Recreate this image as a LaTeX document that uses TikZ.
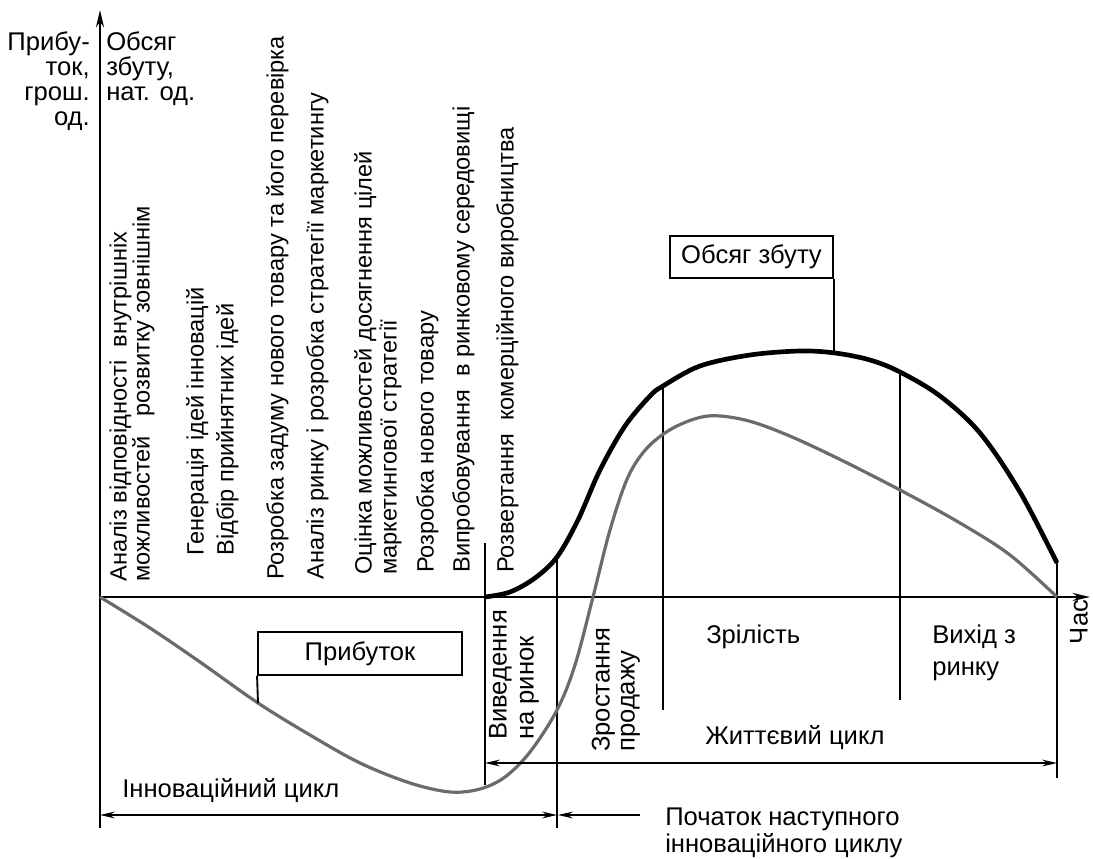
\documentclass[tikz,border=0pt]{standalone}
\usepackage{fontspec}
\setmainfont{Liberation Sans}
\usetikzlibrary{arrows.meta}
\begin{document}
\begin{tikzpicture}[x=0.75pt,y=-0.75pt,
  vtext/.style={rotate=90,anchor=mid west,inner sep=0pt,
    font=\fontsize{17.7pt}{18pt}\selectfont},
  vlabel/.style={rotate=90,anchor=mid west,inner sep=0pt,
    font=\fontsize{19.2pt}{20pt}\selectfont},
  hlabel/.style={inner sep=0pt,anchor=base west,
    font=\fontsize{19.2pt}{20pt}\selectfont},
  axislabel/.style={inner sep=0pt,
    font=\fontsize{19.2pt}{18.9pt}\selectfont},
  axisline/.style={line width=1.9pt,-{Stealth[length=13pt,width=6pt]}},
  divider/.style={line width=1.3pt},
  sales/.style={line width=3.5pt,line join=round},
  profit/.style={line width=2.4pt,draw=black!58},
  tag/.style={draw,line width=1.4pt,inner sep=0pt,
    font=\fontsize{19.2pt}{20pt}\selectfont},
  span/.style={line width=1.4pt,
    {Stealth[length=11pt,width=5pt]}-{Stealth[length=11pt,width=5pt]}},
  onespan/.style={line width=1.4pt,-{Stealth[length=11pt,width=5pt]}}
]
\useasboundingbox (0,0) rectangle (1093,859);

% axes
\coordinate (O) at (100,597);
\coordinate (ytop) at (100,10);
\coordinate (ybot) at (100,828);
\coordinate (xend) at (1090,597);
\draw[line width=1.9pt] (ybot) -- (O);
\draw[axisline] (O) -- (ytop);
\draw[axisline] (O) -- (xend);

% axis titles
\node[axislabel,anchor=north east,align=right] (ylabA) at (90,31)
  {Прибу-\\ток,\\грош.\\од.};
\node[axislabel,anchor=north west,align=left] (ylabB) at (106,31)
  {Обсяг\\збуту,\\нат. од.};
\node[axislabel,rotate=90,anchor=center] (xlab) at (1079,622) {Час};

% stages of the innovation cycle
\node[vtext] (s1a) at (123,582) {Аналіз відповідності\ \ внутрішніх};
\node[vtext] (s1b) at (146,582) {можливостей\ \ \ розвитку зовнішнім};
\node[vtext] (s2)  at (200,556) {Генерація ідей інновацій};
\node[vtext] (s3)  at (230,556) {Відбір прийнятних ідей};
\node[vtext] (s4)  at (280,580) {Розробка задуму нового товару та його перевірка};
\node[vtext] (s5)  at (320,580) {Аналіз ринку і розробка стратегії маркетингу};
\node[vtext] (s6a) at (368,575) {Оцінка можливостей досягнення цілей};
\node[vtext] (s6b) at (393,575) {маркетингової стратегії};
\node[vtext] (s7)  at (430,573) {Розробка нового товару};
\node[vtext] (s8)  at (466,573) {Випробовування\ \ в ринковому середовищі};
\node[vtext] (s9)  at (510,573) {Розвертання\ \ комерційного виробництва};

% phase boundaries
\coordinate (b1t) at (485,543);  \coordinate (b1b) at (485,785);
\coordinate (b2t) at (557,557);  \coordinate (b2b) at (557,828);
\coordinate (b3t) at (663,384);  \coordinate (b3b) at (663,710);
\coordinate (b4t) at (900,372);  \coordinate (b4b) at (900,700);
\coordinate (b5t) at (1057,563); \coordinate (b5b) at (1057,778);
\draw[divider] (b1t) -- (b1b);
\draw[divider] (b2t) -- (b2b);
\draw[divider] (b3t) -- (b3b);
\draw[divider] (b4t) -- (b4b);
\draw[divider] (b5t) -- (b5b);

% profit curve
\draw[profit] plot[smooth,tension=0.55] coordinates {
  (100,597) (150,628) (200,662) (258,703) (310,735) (360,763) (410,783)
  (450,792) (480,789) (505,777) (530,752) (557,710) (575,665) (593,597)
  (610,530) (628,477) (648,447) (675,427) (708,416) (745,420) (785,434)
  (835,457) (900,490) (960,523) (1010,555) (1057,597)};

% sales volume curve
\draw[sales] plot[smooth,tension=0.55] coordinates {
  (485,597) (510,592) (535,578) (557,557) (578,520) (600,470) (625,426)
  (650,396) (663,386) (700,366) (750,355) (800,351) (835,353) (870,360)
  (900,372) (940,396) (980,433) (1020,492) (1057,563)};

% curve tags
\node[tag,minimum width=153pt,minimum height=32.3pt] (ptag) at (360,653.5) {Прибуток};
\coordinate (pmark) at (258,703);
\draw[line width=1.4pt] (ptag.south west) -- (pmark);
\node[tag,minimum width=122.3pt,minimum height=31.5pt] (stag) at (751.5,257) {Обсяг збуту};
\coordinate (smark) at (stag.south east |- 0,353);
\draw[line width=1.4pt] (stag.south east) -- (smark);

% life-cycle phases
\node[vlabel] (p1a) at (503,740) {Виведення};
\node[vlabel] (p1b) at (530,740) {на ринок};
\node[vlabel] (p2a) at (606,752) {Зростання};
\node[vlabel] (p2b) at (631,752) {продажу};
\node[hlabel] (p3) at (706,643) {Зрілість};
\node[hlabel] (p4a) at (932,643) {Вихід з};
\node[hlabel] (p4b) at (932,675) {ринку};

% cycle spans
\coordinate (lcL) at (485,763); \coordinate (lcR) at (1057,763);
\draw[span] (lcL) -- (lcR);
\node[hlabel] (lc) at (705,744) {Життєвий цикл};
\coordinate (icL) at (100,815); \coordinate (icR) at (557,815);
\draw[span] (icL) -- (icR);
\node[hlabel] (ic) at (122,797) {Інноваційний цикл};
\coordinate (nxS) at (640,815); \coordinate (nxE) at (558,815);
\draw[onespan] (nxS) -- (nxE);
\node[hlabel] (nxa) at (665,825) {Початок наступного};
\node[hlabel] (nxb) at (665,852) {інноваційного циклу};
\end{tikzpicture}
\end{document}
